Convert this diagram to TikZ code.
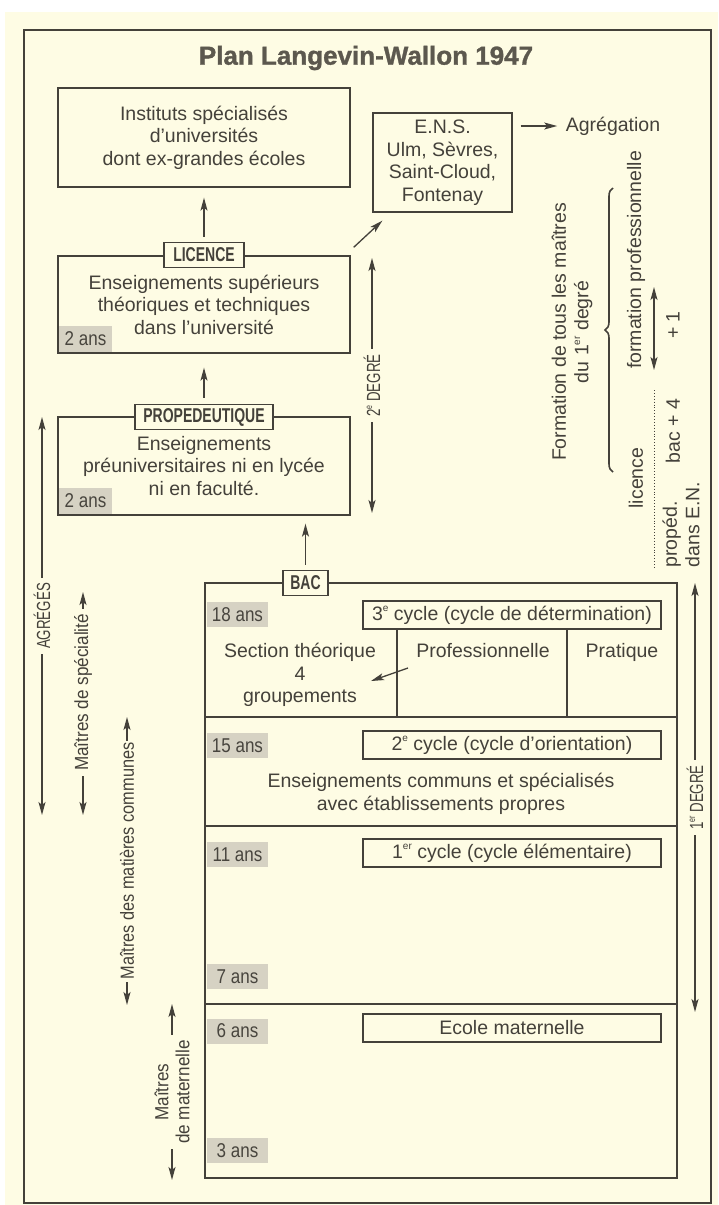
\documentclass[tikz,border=0pt]{standalone}
\usepackage{fontspec}
\setmainfont{Liberation Sans}
\newfontfamily\heavyfont[FakeBold=1.2]{Liberation Sans Bold}
\usepackage{graphicx}
\usetikzlibrary{arrows.meta,decorations.pathreplacing}
\definecolor{cream}{RGB}{254,252,228}
\definecolor{ink}{RGB}{68,65,58}
\definecolor{titlegray}{RGB}{92,88,78}
\definecolor{agebg}{RGB}{214,210,195}
\definecolor{agetext}{RGB}{72,69,62}
\newcommand\txtfont{\fontsize{19.5}{22.5}\selectfont}
\newcommand\titlefont{\fontsize{26}{30}\selectfont\heavyfont}
\newcommand\tagfont{\fontsize{20}{22}\selectfont\bfseries}
\newcommand\agefont{\fontsize{20}{22}\selectfont}
\newcommand\sidefont{\fontsize{19}{21}\selectfont}
\newcommand\cnd[2]{\scalebox{#1}[1]{#2}}
\newcommand\sups[1]{\raisebox{0.8ex}{\fontsize{10}{10}\selectfont #1}}
\tikzstyle{every picture}=[x=1pt,y=-1pt,line width=1.3pt,color=ink,>={Stealth[length=13pt,width=7pt,inset=3pt]}]
\tikzstyle{box}=[draw,align=center,inner sep=0pt,font=\txtfont]
\tikzstyle{tag}=[draw,fill=cream,inner sep=0pt,minimum height=25pt,font=\tagfont]
\tikzstyle{age}=[fill=agebg,text=agetext,inner sep=0pt,minimum width=61pt,minimum height=25pt,font=\agefont]
\tikzstyle{cyc}=[draw,inner sep=0pt,minimum width=298pt,minimum height=28pt,font=\txtfont]
\tikzstyle{vlab}=[rotate=90,fill=cream,inner xsep=5pt,inner ysep=1pt,font=\sidefont,align=center]
\tikzstyle{curly}=[decorate,decoration={brace,amplitude=8pt},line width=1.6pt]

\begin{document}
\begin{tikzpicture}
            \useasboundingbox (0,0) rectangle (718,1205);
            \fill[white] (0,0) rectangle (718,1205);
            \fill[cream] (5,12) rectangle (718,1205);
            \draw (24,30) rectangle (711,1203);

            \node[font=\titlefont,text=titlegray] (title) at (366,58) {Plan Langevin-Wallon 1947};

            \node[box,minimum width=292pt,minimum height=99pt] (inst) at (204,137.5)
                {Instituts spécialisés\\d’universités\\dont ex-grandes écoles};
            \node[box,minimum width=139pt,minimum height=99pt] (ens) at (442.5,162.5)
                {E.N.S.\\Ulm, Sèvres,\\Saint-Cloud,\\Fontenay};
            \node[font=\txtfont,inner sep=0pt] (agr) at (613,126) {Agrégation};

            \node[box,minimum width=292pt,minimum height=97pt] (lic) at (204,304.5)
                {Enseignements supérieurs\\théoriques et techniques\\dans l’université};
            \node[tag,minimum width=80pt] (liclab) at (204,255) {\cnd{0.7}{LICENCE}};
            \node[age,minimum width=53pt,minimum height=26pt,anchor=south west] (lic2)
                at ([shift={(1,-1)}]lic.south west) {\cnd{0.85}{2 ans}};

            \node[box,minimum width=292pt,minimum height=98pt] (prop) at (204,466)
                {Enseignements\\préuniversitaires ni en lycée\\ni en faculté.};
            \node[tag,minimum width=138pt] (proplab) at (204,417) {\cnd{0.7}{PROPEDEUTIQUE}};
            \node[age,minimum width=53pt,minimum height=26pt,anchor=south west] (prop2)
                at ([shift={(1,-1)}]prop.south west) {\cnd{0.85}{2 ans}};

            \draw[->,shorten <=5pt,shorten >=10pt] (liclab.north) -- (inst.south);
            \draw[->,shorten <=6pt,shorten >=14pt] (proplab.north) -- (lic.south);
            \draw[->] ([shift={(3,-8)}]lic.north east) -- ([shift={(10,8)}]ens.south west);
            \draw[->,shorten <=8pt,shorten >=8pt] (ens.east |- agr.west) -- (agr.west);

            \coordinate (dga) at (372,258);
            \coordinate (dgb) at (372,513);
            \draw[<->] (dga) -- node[vlab]{\cnd{0.7}{2\sups{e} DEGRÉ}} (dgb);

            \node[rotate=90,font=\txtfont,align=center] (form) at (572,332)
                {Formation de tous les maîtres\\du 1\sups{er} degré};
            \coordinate (bra) at (613,472);
            \coordinate (brb) at (613,188);
            \draw[curly] (bra) -- (brb);
            \node[rotate=90,font=\txtfont] (fpro) at (636,260) {formation professionnelle};
            \node[rotate=90,font=\txtfont] (licc) at (636,478) {licence};
            \coordinate (fpa) at (654,287);
            \coordinate (fpb) at (654,370);
            \draw[<->] (fpa) -- (fpb);
            \coordinate (dta) at (654,390);
            \coordinate (dtb) at (654,568);
            \draw[dotted,line width=0.9pt] (dta) -- (dtb);
            \node[rotate=90,font=\txtfont] (plus) at (673,325) {+ 1};
            \node[rotate=90,font=\txtfont] (bac4) at (673,431) {bac + 4};
            \node[rotate=90,font=\txtfont,align=left,anchor=west,inner sep=0pt] (ped) at (681,568)
                {propéd.\\dans E.N.};

            \node[draw,inner sep=0pt,minimum width=472pt,minimum height=595pt] (lyc) at (441,880.5) {};
            \node[tag,minimum width=45pt] (baclab) at (305.5,583) {\cnd{0.7}{BAC}};
            \draw[->,shorten <=5pt,shorten >=8pt] (baclab.north) -- (baclab.north |- prop.south);

            \draw (205,717) -- (677,717);
            \draw (205,826) -- (677,826);
            \draw (205,1004) -- (677,1004);
            \draw (397,629) -- (397,717);
            \draw (567,629) -- (567,717);

            \node[cyc] (c3) at (512,615) {3\sups{e} cycle (cycle de détermination)};
            \node[cyc] (c2) at (512,745) {2\sups{e} cycle (cycle d’orientation)};
            \node[cyc] (c1) at (512,853) {1\sups{er} cycle (cycle élémentaire)};
            \node[cyc] (mat) at (512,1028) {Ecole maternelle};

            \node[age] (a18) at (237.5,614.5) {\cnd{0.85}{18 ans}};
            \node[age] (a15) at (237.5,745.5) {\cnd{0.85}{15 ans}};
            \node[age] (a11) at (237.5,854.5) {\cnd{0.85}{11 ans}};
            \node[age] (a7) at (237.5,976.5) {\cnd{0.85}{7 ans}};
            \node[age] (a6) at (237.5,1031) {\cnd{0.85}{6 ans}};
            \node[age] (a3) at (237.5,1150.5) {\cnd{0.85}{3 ans}};

            \node[font=\txtfont,align=center] (sect) at (300,675) {Section théorique\\4\\groupements};
            \node[font=\txtfont,text height=14pt,text depth=4pt] (prof) at (483,652) {Professionnelle};
            \node[font=\txtfont,text height=14pt,text depth=4pt] (prat) at (622,652) {Pratique};
            \coordinate (pfa) at (408,668);
            \coordinate (pfb) at (371,681);
            \draw[->] (pfa) -- (pfb);
            \node[font=\txtfont,align=center] (comm) at (441,794)
                {Enseignements communs et spécialisés\\avec établissements propres};

            \coordinate (d1a) at (695,583);
            \coordinate (d1b) at (695,1012);
            \draw[<->] (d1a) -- node[vlab]{\cnd{0.7}{1\sups{er} DEGRÉ}} (d1b);

            \coordinate (aga) at (42,417);
            \coordinate (agb) at (42,815);
            \draw[<->] (aga) -- node[vlab]{\cnd{0.7}{AGRÉGÉS}} (agb);
            \coordinate (spa) at (83,592);
            \coordinate (spb) at (83,815);
            \draw[<->] (spa) -- node[vlab,pos=0.45]{\cnd{0.9}{Maîtres de spécialité}} (spb);
            \coordinate (mca) at (127,717);
            \coordinate (mcb) at (127,1005);
            \draw[<->] (mca) -- node[vlab,inner xsep=2pt]{\cnd{0.86}{Maîtres des matières communes}} (mcb);
            \coordinate (mma) at (172,1004);
            \coordinate (mmb) at (172,1180);
            \draw[<->] (mma) -- node[vlab]{\cnd{0.9}{Maîtres}\\\cnd{0.9}{de maternelle}} (mmb);
        \end{tikzpicture}
\end{document}
